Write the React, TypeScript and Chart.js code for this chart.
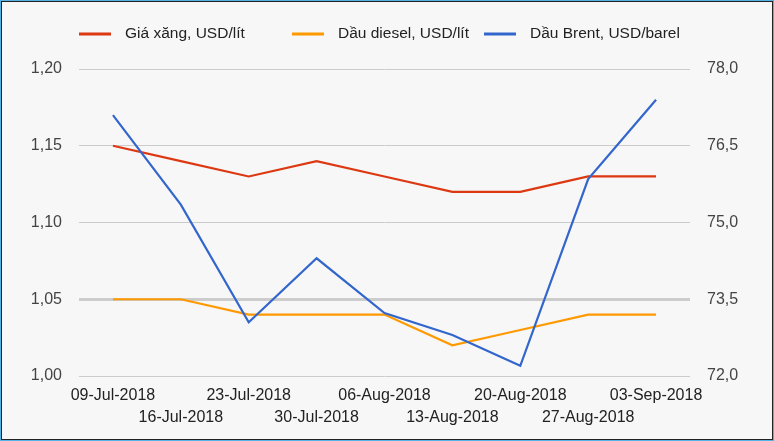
import React, { useEffect, useRef } from 'react';
import { Chart, registerables } from 'chart.js';

Chart.register(...registerables);

const categories = [
  '09-Jul-2018', '16-Jul-2018', '23-Jul-2018', '30-Jul-2018', '06-Aug-2018',
  '13-Aug-2018', '20-Aug-2018', '27-Aug-2018', '03-Sep-2018',
];
const gasoline = [1.15, 1.14, 1.13, 1.14, 1.13, 1.12, 1.12, 1.13, 1.13];
const diesel = [1.05, 1.05, 1.04, 1.04, 1.04, 1.02, 1.03, 1.04, 1.04];
const brent = [77.1, 75.35, 73.05, 74.3, 73.23, 72.8, 72.2, 75.85, 77.4];
const seriesLabels = ['Giá xăng, USD/lít', 'Dầu diesel, USD/lít', 'Dầu Brent, USD/barel'];
const seriesColors = ['#dc3912', '#ff9900', '#3366cc'];

const FONT = '"Liberation Sans", Arial, sans-serif';
const legendX = [77, 290, 482];

const legendPlugin = {
  id: 'customLegend',
  afterDraw(chart: any) {
    const ctx = chart.ctx as CanvasRenderingContext2D;
    ctx.save();
    const y = 32;
    chart.data.datasets.forEach((ds: any, i: number) => {
      const x = legendX[i];
      ctx.fillStyle = ds.borderColor;
      ctx.fillRect(x, y - 1.5, 32, 3);
      ctx.font = `15.5px ${FONT}`;
      ctx.fillStyle = '#222';
      ctx.textBaseline = 'middle';
      ctx.textAlign = 'left';
      ctx.fillText(ds.label, x + 46, y);
    });
    ctx.restore();
  },
};

export default function App() {
  const ref = useRef<HTMLCanvasElement>(null);
  useEffect(() => {
    document.body.style.margin = '0';
    const chart = new Chart(ref.current!, {
      type: 'line',
      data: {
        labels: categories,
        datasets: [
          { label: seriesLabels[0], data: gasoline, borderColor: seriesColors[0], backgroundColor: seriesColors[0], borderWidth: 2.2, pointRadius: 0, yAxisID: 'y', order: 3, tension: 0 },
          { label: seriesLabels[1], data: diesel, borderColor: seriesColors[1], backgroundColor: seriesColors[1], borderWidth: 2.2, pointRadius: 0, yAxisID: 'y', order: 2, tension: 0 },
          { label: seriesLabels[2], data: brent, borderColor: seriesColors[2], backgroundColor: seriesColors[2], borderWidth: 2.2, pointRadius: 0, yAxisID: 'y1', order: 1, tension: 0 },
        ],
      },
      options: {
        responsive: false,
        animation: false,
        layout: { padding: { top: 67, left: 0, right: 0, bottom: 0 } },
        plugins: { legend: { display: false }, tooltip: { enabled: false } },
        scales: {
          x: {
            offset: true,
            grid: { display: false, drawTicks: false },
            border: { display: false },
            afterFit: (s: any) => { s.height = 63; },
            ticks: {
              autoSkip: false,
              maxRotation: 0,
              minRotation: 0,
              padding: 9,
              color: '#222',
              font: { family: FONT, size: 16, lineHeight: 1.375 },
              callback: (_v: any, i: number) => (i % 2 === 0 ? [categories[i]] : ['', categories[i]]),
            },
          },
          y: {
            position: 'left',
            min: 1.0,
            max: 1.2,
            afterFit: (s: any) => { s.width = 77; },
            grid: {
              drawTicks: false,
              color: '#cccccc',
              lineWidth: (c: any) => (Math.abs(c.tick.value - 1.05) < 1e-6 ? 3 : 1),
            },
            border: { display: false },
            ticks: {
              stepSize: 0.05,
              padding: 17,
              color: '#444',
              font: { family: FONT, size: 16 },
              callback: (v: any) => Number(v).toFixed(2).replace('.', ','),
            },
          },
          y1: {
            position: 'right',
            min: 72,
            max: 78,
            afterFit: (s: any) => { s.width = 82; },
            grid: { display: false, drawTicks: false },
            border: { display: false },
            ticks: {
              stepSize: 1.5,
              padding: 17,
              color: '#444',
              font: { family: FONT, size: 16 },
              callback: (v: any) => Number(v).toFixed(1).replace('.', ','),
            },
          },
        },
      },
      plugins: [legendPlugin],
    });
    return () => chart.destroy();
  }, []);

  return (
    <div style={{ width: 774, height: 441, boxSizing: 'border-box', border: '1px solid #55b2e4', background: '#f7f7f7' }}>
      <div style={{ width: 772, height: 439, boxSizing: 'border-box', border: '1px solid #222' }}>
        <canvas ref={ref} width={770} height={437} style={{ display: 'block' }} />
      </div>
    </div>
  );
}
